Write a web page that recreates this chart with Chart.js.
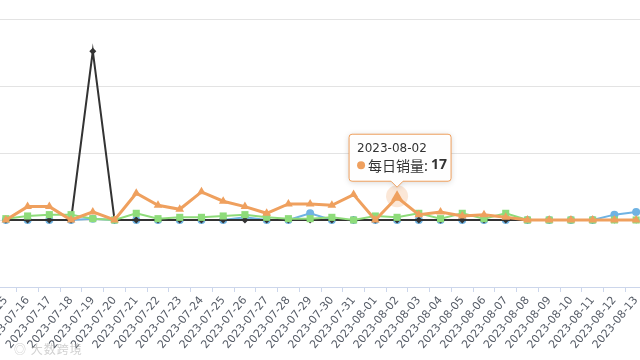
<!DOCTYPE html>
<html><head><meta charset="utf-8">
<script src="https://cdn.jsdelivr.net/npm/chart.js@4/dist/chart.umd.min.js"></script>
<style>
html,body{margin:0;padding:0;background:#fff;width:640px;height:360px;overflow:hidden;position:relative;}
#wrap{position:absolute;left:-10px;top:0;width:662px;height:360px;}
#wm{position:absolute;left:14px;top:340px;font:12px "Noto Sans CJK SC",sans-serif;color:rgba(170,170,170,0.55);letter-spacing:1px;}
</style></head><body>
<div id="wrap"><canvas id="c"></canvas></div>
<div id="wm">◎ 大数跨境</div>
<script>
const categories = ["2023-07-15","2023-07-16","2023-07-17","2023-07-18","2023-07-19","2023-07-20","2023-07-21","2023-07-22","2023-07-23","2023-07-24","2023-07-25","2023-07-26","2023-07-27","2023-07-28","2023-07-29","2023-07-30","2023-07-31","2023-08-01","2023-08-02","2023-08-03","2023-08-04","2023-08-05","2023-08-06","2023-08-07","2023-08-08","2023-08-09","2023-08-10","2023-08-11","2023-08-12","2023-08-13"];
const dailySales = [0,10,10,0,6,0,20,11,8,21,14,10,5,12,12,11,19,0,17,4,6,3,4,2,0,0,0,0,0,0];
const greenSeries = [1,3,4,4,1,0,5,1,2,2,3,4,2,1,1,2,0,3,2,5,1,5,1,5,0,0,0,0,0,0];
const blackSeries = [0,0,0,0,126,0,0,0,0,0,0,0,0,0,0,0,0,0,0,0,0,0,0,0,0,0,0,0,0,0];
const blueSeries = [0,0,0,0,1,0,0,0,0,0,0,2,0,0,5,0,0,0,0,0,0,0,0,0,0,0,0,0,4,6];
const yTicks = [-50,0,50,100,150];
const hoverIndex = 18;

const ORANGE='#EFA05E', GREEN='#8EDC7A', BLACK='#333333', BLUE='#6FB3E3';

const tooltipPlugin = {
  id:'fixedTip',
  afterDraw(chart){
    const ctx = chart.ctx;
    const pt = chart.getDatasetMeta(0).data[hoverIndex];
    const x = pt.x, y = pt.y;
    const w = 102, h = 47;
    const left = x - w/2 + 3, top = y - 16 - h;
    ctx.save();
    ctx.shadowColor='rgba(0,0,0,0.18)'; ctx.shadowBlur=6; ctx.shadowOffsetY=1;
    ctx.fillStyle='rgba(255,255,255,0.96)';
    ctx.strokeStyle=ORANGE; ctx.lineWidth=1;
    ctx.beginPath();
    const r=3;
    ctx.moveTo(left+r,top);
    ctx.lineTo(left+w-r,top); ctx.quadraticCurveTo(left+w,top,left+w,top+r);
    ctx.lineTo(left+w,top+h-r); ctx.quadraticCurveTo(left+w,top+h,left+w-r,top+h);
    ctx.lineTo(x+6,top+h); ctx.lineTo(x,top+h+6); ctx.lineTo(x-6,top+h);
    ctx.lineTo(left+r,top+h); ctx.quadraticCurveTo(left,top+h,left,top+h-r);
    ctx.lineTo(left,top+r); ctx.quadraticCurveTo(left,top,left+r,top);
    ctx.closePath();
    ctx.fill();
    ctx.shadowColor='transparent';
    ctx.stroke();
    ctx.fillStyle='#333';
    ctx.textBaseline='middle';
    ctx.font='12px "DejaVu Sans", sans-serif';
    ctx.fillText(categories[hoverIndex], left+8, top+15);
    ctx.fillStyle=ORANGE;
    ctx.beginPath(); ctx.arc(left+12, top+31, 4, 0, Math.PI*2); ctx.fill();
    ctx.fillStyle='#333';
    ctx.font='14px "Noto Sans CJK SC", sans-serif';
    const lab='每日销量: ';
    ctx.fillText(lab, left+19, top+31);
    const lw = ctx.measureText(lab).width;
    ctx.font='bold 14px "Noto Sans", sans-serif';
    ctx.fillText(String(dailySales[hoverIndex]), left+19+lw, top+31);
    ctx.restore();
  },
  beforeDatasetsDraw(chart){
    const ctx = chart.ctx;
    const pt = chart.getDatasetMeta(0).data[hoverIndex];
    ctx.save();
    ctx.fillStyle='rgba(239,160,94,0.25)';
    ctx.beginPath(); ctx.arc(pt.x, pt.y-1, 11, 0, Math.PI*2); ctx.fill();
    ctx.restore();
  }
};

new Chart(document.getElementById('c'), {
  type:'line',
  data:{
    labels: categories,
    datasets:[
      {label:'每日销量', data: dailySales, borderColor: ORANGE, backgroundColor: ORANGE, borderWidth:3,
        pointStyle:'triangle', pointRadius: ctx => ctx.dataIndex===hoverIndex ? 7 : 5, pointBorderWidth:0, tension:0},
      {label:'B', data: greenSeries, borderColor: GREEN, backgroundColor: GREEN, borderWidth:2,
        pointStyle:'rect', pointRadius:5, pointBorderWidth:0, tension:0},
      {label:'C', data: blackSeries, borderColor: BLACK, backgroundColor: BLACK, borderWidth:2,
        pointStyle:'rectRot', pointRadius:3.5, pointBorderWidth:0, tension:0},
      {label:'D', data: blueSeries, borderColor: BLUE, backgroundColor: BLUE, borderWidth:2,
        pointStyle:'circle', pointRadius:4, pointBorderWidth:0, tension:0}
    ]
  },
  options:{
    responsive:true, maintainAspectRatio:false, animation:false,
    events:[],
    layout:{padding:{top:19,left:0,right:0,bottom:0}},
    plugins:{legend:{display:false}, tooltip:{enabled:false}},
    scales:{
      x:{
        offset:true,
        grid:{drawOnChartArea:false, drawTicks:true, tickLength:5, color:'#ccd6eb', offset:true},
        border:{color:'#ccd6eb', width:1},
        ticks:{autoSkip:false, maxRotation:50, minRotation:50, padding:2, color:'#555b66',
          font:{size:11, family:'"DejaVu Sans", sans-serif'}},
        afterFit(s){ s.height = 73; s.paddingLeft = 0; s.paddingRight = 0; }
      },
      y:{
        min:-50, max:150,
        afterBuildTicks(s){ s.ticks = yTicks.map(v=>({value:v})); },
        ticks:{display:false},
        grid:{color:'#e3e3e3', drawTicks:false, lineWidth:1},
        border:{display:false},
        afterFit(s){ s.width = 0; s.paddingTop=0; s.paddingBottom=0; }
      }
    }
  },
  plugins:[tooltipPlugin]
});
</script>
</body></html>
